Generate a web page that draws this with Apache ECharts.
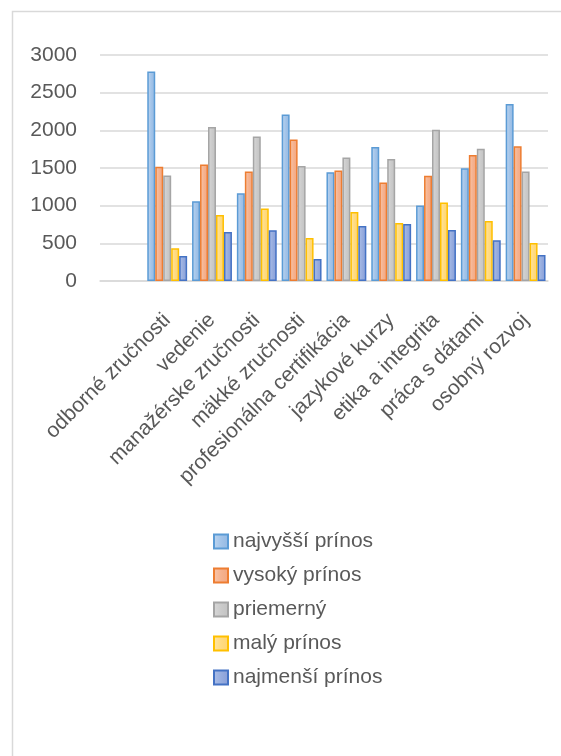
<!DOCTYPE html>
<html>
<head>
<meta charset="utf-8">
<script src="https://cdn.jsdelivr.net/npm/echarts@6/dist/echarts.min.js"></script>
<style>
html,body{margin:0;padding:0;background:#fff;}
#chart{width:561px;height:756px;}
</style>
</head>
<body>
<div id="chart"></div>
<script>
var categories = ['', 'odborné zručnosti', 'vedenie', 'manažérske zručnosti', 'mäkké zručnosti', 'profesionálna certifikácia', 'jazykové kurzy', 'etika a integrita', 'práca s dátami', 'osobný rozvoj'];
var seriesNames = ['najvyšší prínos', 'vysoký prínos', 'priemerný', 'malý prínos', 'najmenší prínos'];
var najvyssi = [null, 2780, 1060, 1165, 2210, 1445, 1780, 1002, 1497, 2348];
var vysoky   = [null, 1515, 1547, 1454, 1878, 1467, 1308, 1396, 1671, 1790];
var priemerny= [null, 1400, 2043, 1919, 1528, 1640, 1621, 2007, 1754, 1454];
var maly     = [null, 435, 877, 962, 571, 917, 771, 1042, 797, 505];
var najmensi = [null, 332, 651, 674, 292, 731, 757, 678, 541, 346];
var yTicks = [0, 500, 1000, 1500, 2000, 2500, 3000];

var values = [najvyssi, vysoky, priemerny, maly, najmensi];
var borders = ['#5B9BD5', '#ED7D31', '#A5A5A5', '#FFC000', '#4472C4'];
var fills = [
  ['#C0D7F0', '#A3C4E9', '#92B8E3'],
  ['#F9C8AD', '#F5B28F', '#F3A67F'],
  ['#D9D9D9', '#CBCBCB', '#C2C2C2'],
  ['#FFE6A6', '#FFDB82', '#FFD370'],
  ['#AEC0E8', '#97ADDF', '#889DD7']
];

var chart = echarts.init(document.getElementById('chart'), null, {renderer: 'canvas'});
var series = seriesNames.map(function (n, i) {
  return {
    name: n,
    type: 'bar',
    data: values[i],
    barGap: '0%',
    barCategoryGap: '11%',
    itemStyle: {
      color: new echarts.graphic.LinearGradient(0, 0, 1, 0, [
        {offset: 0, color: fills[i][0]},
        {offset: 0.5, color: fills[i][1]},
        {offset: 1, color: fills[i][2]}
      ]),
      borderColor: borders[i],
      borderWidth: 1.5
    },
    emphasis: {disabled: true},
    animation: false
  };
});

chart.setOption({
  animation: false,
  backgroundColor: '#ffffff',
  textStyle: {fontFamily: 'Liberation Sans'},
  graphic: [{
    type: 'rect',
    shape: {x: 12.5, y: 11.5, width: 700, height: 900},
    style: {fill: 'none', stroke: '#D9D9D9', lineWidth: 1.5},
    silent: true
  }],
  grid: {left: 100, right: 13, top: 55, bottom: 475, containLabel: false},
  legend: {
    orient: 'vertical',
    left: 213,
    top: 531,
    padding: 0,
    itemWidth: 14,
    itemHeight: 14,
    itemGap: 13,
    icon: 'rect',
    textStyle: {fontSize: 21, color: '#595959', fontFamily: 'Liberation Sans', lineHeight: 21},
    data: seriesNames
  },
  xAxis: {
    type: 'category',
    data: categories,
    axisLine: {lineStyle: {color: '#D9D9D9', width: 1.5}},
    axisTick: {show: false},
    axisLabel: {
      interval: 0,
      rotate: 45,
      margin: 36,
      fontSize: 21,
      color: '#595959',
      fontFamily: 'Liberation Sans'
    }
  },
  yAxis: {
    type: 'value',
    min: yTicks[0],
    max: yTicks[yTicks.length - 1],
    interval: yTicks[1] - yTicks[0],
    axisLine: {show: false},
    axisTick: {show: false},
    splitLine: {lineStyle: {color: '#D9D9D9', width: 1.5}},
    axisLabel: {fontSize: 21, color: '#595959', margin: 23, fontFamily: 'Liberation Sans',
      formatter: function (v) { return String(v); }}
  },
  series: series
});
</script>
</body>
</html>
